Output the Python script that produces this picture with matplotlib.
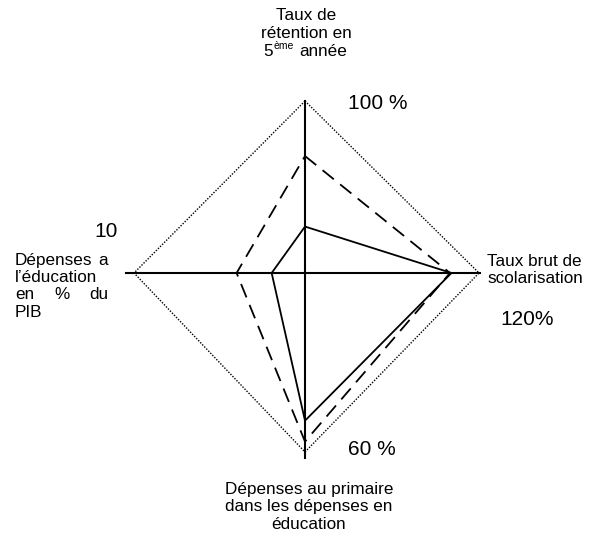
import numpy as np
import matplotlib
matplotlib.use('Agg')
import matplotlib.pyplot as plt

plt.rcParams['font.family'] = ['Liberation Sans', 'DejaVu Sans']

# axes order: top, right, bottom, left
axis_max = [100, 120, 60, 10]
axis_max_labels = ['100 %', '120%', '60 %', '10']
pays_a = [27, 101, 49.5, 1.95]     # solid line
pays_b = [68, 100, 56.5, 4.0]      # dashed line

# geometry of the diamond (pixel space)
cx, cy = 305, 273
reach = [172, 174, 179, 171]
dirs = [(0, -1), (1, 0), (0, 1), (-1, 0)]


def to_xy(vals):
    xs, ys = [], []
    for v, m, r, (dx, dy) in zip(vals, axis_max, reach, dirs):
        f = v / m
        xs.append(cx + dx * f * r)
        ys.append(cy + dy * f * r)
    return xs + xs[:1], ys + ys[:1]


fig = plt.figure(figsize=(5.96, 5.40), dpi=100)
ax = fig.add_axes([0, 0, 1, 1])
ax.set_xlim(0, 596)
ax.set_ylim(540, 0)
ax.axis('off')

# outer dotted diamond
ox, oy = to_xy(axis_max)
ax.plot(ox, oy, color='black', lw=1.0, linestyle=(0, (1, 1.1)))

# axes
ax.plot([cx, cx], [101, 458], color='black', lw=1.5)
ax.plot([126, 480], [cy, cy], color='black', lw=1.5)

# series
x, y = to_xy(pays_a)
ax.plot(x, y, color='black', lw=1.3)
x, y = to_xy(pays_b)
ax.plot(x, y, color='black', lw=1.3, linestyle=(0, (8, 4.5)))

fs = 12.3
nfs = 15

# top label
ax.text(306, 20, 'Taux de', ha='center', va='baseline', fontsize=fs)
ax.text(306, 38, 'rétention en', ha='center', va='baseline', fontsize=fs)
ax.text(273, 56, '5', ha='right', va='baseline', fontsize=fs)
ax.text(273, 49, 'ème', ha='left', va='baseline', fontsize=7.5)
ax.text(299, 56, 'année', ha='left', va='baseline', fontsize=fs)

# right label
ax.text(487, 266, 'Taux brut de', ha='left', va='baseline', fontsize=fs)
ax.text(487, 283, 'scolarisation', ha='left', va='baseline', fontsize=fs)

# bottom label
ax.text(309, 494, 'Dépenses au primaire', ha='center', va='baseline', fontsize=fs)
ax.text(309, 511, 'dans les dépenses en', ha='center', va='baseline', fontsize=fs)
ax.text(309, 529, 'éducation', ha='center', va='baseline', fontsize=fs)

# left label (justified)
ax.text(15, 265, 'Dépenses', ha='left', va='baseline', fontsize=fs)
ax.text(108, 265, 'a', ha='right', va='baseline', fontsize=fs)
ax.text(15, 282, 'l\u2019éducation', ha='left', va='baseline', fontsize=fs)
ax.text(15, 299, 'en', ha='left', va='baseline', fontsize=fs)
ax.text(62, 299, '%', ha='center', va='baseline', fontsize=fs)
ax.text(108, 299, 'du', ha='right', va='baseline', fontsize=fs)
ax.text(15, 317, 'PIB', ha='left', va='baseline', fontsize=fs)

# max value labels
ax.text(348, 109, axis_max_labels[0], ha='left', va='baseline', fontsize=nfs)
ax.text(500, 325, axis_max_labels[1], ha='left', va='baseline', fontsize=nfs)
ax.text(348, 455, axis_max_labels[2], ha='left', va='baseline', fontsize=nfs)
ax.text(118, 237, axis_max_labels[3], ha='right', va='baseline', fontsize=nfs)

fig.savefig('out.png', dpi=100)
